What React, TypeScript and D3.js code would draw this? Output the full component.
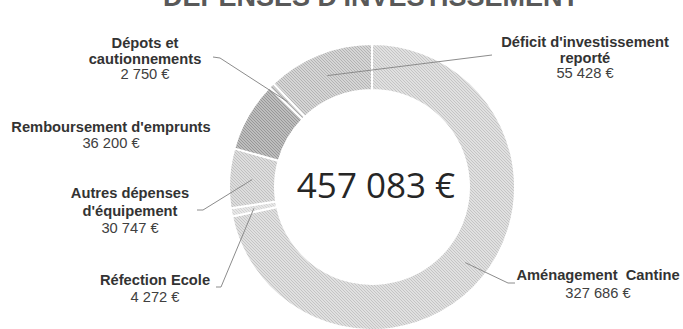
import React from "react";
import * as d3 from "d3";

// Spending categories, in the order the ring is drawn (clockwise from 12 o'clock)
const categories = [
  "Aménagement Cantine",
  "Réfection Ecole",
  "Autres dépenses d'équipement",
  "Remboursement d'emprunts",
  "Dépots et cautionnements",
  "Déficit d'investissement reporté",
];
const amounts = [327686, 4272, 30747, 36200, 2750, 55428];
const labelLines = [
  ["Aménagement  Cantine"],
  ["Réfection Ecole"],
  ["Autres dépenses", "d'équipement"],
  ["Remboursement d'emprunts"],
  ["Dépots et", "cautionnements"],
  ["Déficit d'investissement", "reporté"],
];
const title = "DÉPENSES D'INVESTISSEMENT";

// Layout
const W = 683;
const H = 329;
const CX = 372;
const CY = 187;
const R_OUT = 143;
const R_IN = 97;

// label block: centre x, first baseline, line step
const labelPos = [
  { x: 598, y: 280, step: 18 },
  { x: 155, y: 285, step: 17 },
  { x: 130, y: 198, step: 17.5 },
  { x: 111, y: 132, step: 15.5 },
  { x: 145, y: 48, step: 15.5 },
  { x: 585, y: 47, step: 15.5 },
];
// leader line start (near the label) and a short elbow point; null = no leader
const leaderStart: ([number, number][] | null)[] = [
  [[515, 283], [508, 283]],
  [[216, 287], [221, 287]],
  [[197, 210], [203, 210]],
  null,
  [[213, 57], [220, 58]],
  [[492, 55]],
];

// hatch fills: [background, stripe]
const hatch = [
  ["#e0e0e0", "#c4c4c4"],
  ["#e8e8e8", "#d2d2d2"],
  ["#dddddd", "#c0c0c0"],
  ["#bdbdbd", "#979797"],
  ["#cdcdcd", "#a9a9a9"],
  ["#d5d5d5", "#b3b3b3"],
];

const locale = d3.formatLocale({
  decimal: ",",
  thousands: " ",
  grouping: [3],
  currency: ["", " €"],
});
const fmt = (v: number) => locale.format(",.0f")(v) + " €";

export default function App() {
  const pie = d3
    .pie<number>()
    .sort(null)
    .value((d) => d)
    .startAngle(0)
    .endAngle(2 * Math.PI);
  const arcs = pie(amounts);
  const arc = d3.arc<d3.PieArcDatum<number>>().innerRadius(R_IN).outerRadius(R_OUT);
  const total = d3.sum(amounts);

  return (
    <svg
      width={W}
      height={H}
      style={{ position: "absolute", left: 0, top: 0, background: "#fff" }}
      fontFamily="'Liberation Sans', Arial, sans-serif"
    >
      <defs>
        {hatch.map(([bg, fg], i) => (
          <pattern
            key={i}
            id={`hatch-${i}`}
            patternUnits="userSpaceOnUse"
            width={3}
            height={3}
          >
            <rect width={3} height={3} fill={bg} />
            <path
              d="M-1,2 l2,2 M0,0 l3,3 M2,-1 l2,2"
              stroke={fg}
              strokeWidth={1}
            />
          </pattern>
        ))}
      </defs>

      <text
        x={371}
        y={6}
        textAnchor="middle"
        fontSize={27}
        fontWeight="bold"
        fill="#595959"
      >
        {title}
      </text>

      <g transform={`translate(${CX},${CY})`}>
        {arcs.map((a, i) => (
          <path
            key={categories[i]}
            d={arc(a) || ""}
            fill={`url(#hatch-${i})`}
            stroke="#ffffff"
            strokeWidth={2}
          />
        ))}
      </g>

      {arcs.map((a, i) => {
        const start = leaderStart[i];
        if (!start) return null;
        const [mx, my] = arc.centroid(a);
        const pts: [number, number][] = [...start, [CX + mx, CY + my]];
        return (
          <path
            key={`leader-${i}`}
            d={d3.line()(pts) || ""}
            fill="none"
            stroke="#8c8c8c"
            strokeWidth={1}
          />
        );
      })}

      {labelLines.map((lines, i) => {
        const p = labelPos[i];
        return (
          <text key={`label-${i}`} textAnchor="middle" fontSize={14.7} fill="#333333">
            {lines.map((ln, j) => (
              <tspan key={j} x={p.x} y={p.y + j * p.step} fontWeight="bold" style={{ whiteSpace: "pre" }}>
                {ln}
              </tspan>
            ))}
            <tspan x={p.x} y={p.y + lines.length * p.step} fill="#404040">
              {fmt(amounts[i])}
            </tspan>
          </text>
        );
      })}

      <text
        x={376}
        y={198}
        textAnchor="middle"
        fontFamily="'Open Sans', sans-serif"
        fontSize={35}
        fill="#262626"
      >
        {fmt(total)}
      </text>
    </svg>
  );
}
